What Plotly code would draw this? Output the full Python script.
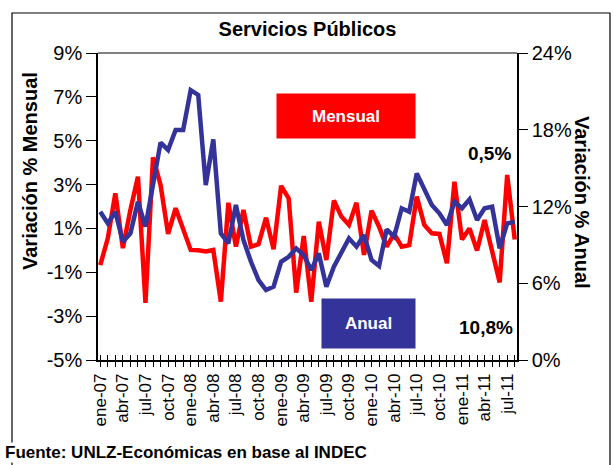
""" Servicios Publicos: variacion mensual y anual """
import plotly.graph_objects as go

meses = ['ene', 'feb', 'mar', 'abr', 'may', 'jun',
         'jul', 'ago', 'sep', 'oct', 'nov', 'dic']
periodos = [m + '-' + y for y in ['07', '08', '09', '10', '11'] for m in meses][:56]

mensual = [-0.67, 0.55, 2.6, 0.1, 1.84, 3.36, -2.4, 4.24, 2.98, 0.75, 1.92, 0.96,
           0.02, 0.0, -0.05, 0.02, -2.34, 2.17, 0.17, 1.84, 0.17, 0.28, 1.49, 0.05,
           2.94, 2.37, -1.93, 0.65, -2.34, 1.31, -0.44, 2.27, 1.54, 1.16, 2.17, -0.21,
           1.81, 1.08, 0.17, 0.75, 0.17, 0.24, 2.45, 1.16, 0.78, 0.75, -0.59, 3.13,
           0.5, 1.0, -0.01, 1.38, 0.02, -1.46, 3.44, 0.5]

anual = [11.59, 10.68, 11.59, 9.25, 9.9, 12.37, 10.42, 13.68, 16.99, 16.42, 17.98, 17.98,
         21.1, 20.72, 13.68, 17.25, 9.9, 9.12, 12.12, 9.38, 7.68, 6.25, 5.47, 5.73,
         7.68, 8.07, 8.73, 8.2, 7.03, 8.34, 5.73, 7.29, 8.46, 9.51, 8.86, 9.77,
         7.82, 7.35, 10.21, 9.64, 11.86, 11.59, 14.59, 13.29, 12.12, 11.47, 10.55, 12.37,
         11.86, 12.56, 10.94, 11.86, 11.98, 8.73, 10.68, 10.81]

ticks_mensual = [-5, -3, -1, 1, 3, 5, 7, 9]
ticks_anual = [0, 6, 12, 18, 24]

idx = list(range(len(periodos)))
tick_idx = idx[::3]
tick_txt = periodos[::3]

FONT = 'Liberation Sans, Arial, sans-serif'
ROJO = '#FF0000'
AZUL = '#333399'


def px_x(px):
    """ pixel column -> paper x """
    return (px - 98) / 419


def px_y(px):
    """ pixel row -> paper y """
    return (360 - px) / 307


fig = go.Figure()
fig.add_trace(go.Scatter(x=idx, y=mensual, mode='lines', name='Mensual',
                         line=dict(color=ROJO, width=4.5)))
fig.add_trace(go.Scatter(x=idx, y=anual, mode='lines', name='Anual', yaxis='y2',
                         line=dict(color=AZUL, width=4.5)))
# dummy trace so the inside-tick overlay axis is drawn
fig.add_trace(go.Scatter(x=[None], y=[None], xaxis='x2', showlegend=False,
                         hoverinfo='skip'))

xr = [-0.3, 55.3]
fig.update_layout(
    width=613, height=465,
    margin=dict(l=98, r=96, t=53, b=105, autoexpand=False),
    paper_bgcolor='white', plot_bgcolor='white',
    showlegend=False,
    font=dict(family=FONT, color='black'),
    title=dict(text='<b>Servicios Públicos</b>', x=0.5, xref='paper',
               y=1 - 29 / 465, yanchor='middle',
               font=dict(size=20, family=FONT, color='black')),
    xaxis=dict(range=xr, tickmode='array', tickvals=tick_idx, ticktext=tick_txt,
               tickangle=-90, tickfont=dict(size=17), showgrid=False, zeroline=False,
               automargin=False,
               showline=True, linecolor='black', linewidth=1.5,
               ticks='outside', ticklen=5, tickcolor='black',
               minor=dict(dtick=1, tick0=0, ticks='outside', ticklen=5,
                          tickcolor='black')),
    xaxis2=dict(range=xr, overlaying='x', anchor='y', side='bottom',
                showticklabels=False, showgrid=False, zeroline=False,
                automargin=False,
                tickmode='linear', tick0=0, dtick=1, ticks='inside', ticklen=5,
                tickcolor='black'),
    yaxis=dict(range=[-5, 9], tickmode='array', tickvals=ticks_mensual,
               ticktext=[f'{v}%' for v in ticks_mensual],
               tickfont=dict(size=20), showgrid=False, zeroline=False,
               automargin=False,
               showline=True, linecolor='black', linewidth=1.5,
               ticks='outside', ticklen=10, tickcolor='black'),
    yaxis2=dict(range=[0, 24], tickmode='array', tickvals=ticks_anual,
                ticktext=[f'{v}%' for v in ticks_anual],
                overlaying='y', side='right', anchor='x',
                tickfont=dict(size=20), showgrid=False, zeroline=False,
                automargin=False,
                showline=True, linecolor='black', linewidth=1.5,
                ticks='outside', ticklen=9, tickcolor='black'),
)

# outer frame and grey top border
fig.add_shape(type='rect', xref='paper', yref='paper',
              x0=px_x(12), x1=px_x(610), y0=px_y(470), y1=px_y(13),
              line=dict(color='black', width=1.2), layer='below')
fig.add_shape(type='line', xref='paper', yref='paper', x0=0, x1=1, y0=1, y1=1,
              line=dict(color='#808080', width=2))

notes = [
    # text, x, y, extra
    ('<b>Variación % Mensual</b>', 30, 171, dict(textangle=-90, font=dict(size=20))),
    ('<b>Variación % Anual</b>', 582, 202, dict(textangle=90, font=dict(size=20))),
    ('<b>Mensual</b>', 346, 116, dict(bgcolor=ROJO, width=138, height=44, borderpad=0,
                                      font=dict(size=17, color='white'))),
    ('<b>Anual</b>', 368.5, 323.5, dict(bgcolor=AZUL, width=93, height=49, borderpad=0,
                                        font=dict(size=17, color='white'))),
    ('<b>0,5%</b>', 489.5, 153, dict(font=dict(size=19))),
    ('<b>10,8%</b>', 485.5, 327, dict(font=dict(size=19))),
]
for text, x, y, extra in notes:
    fig.add_annotation(text=text, xref='paper', yref='paper', x=px_x(x), y=px_y(y),
                       xanchor='center', yanchor='middle', showarrow=False, **extra)

# source
fig.add_annotation(text='<b>Fuente: UNLZ-Económicas en base al INDEC</b>',
                   xref='paper', yref='paper', x=px_x(4), xanchor='left',
                   y=px_y(452), yanchor='middle', showarrow=False, bgcolor='white',
                   borderpad=0, font=dict(size=17))

fig.write_html("out.html",
               config={'displayModeBar': False},
               post_script="document.body.style.margin='0';"
                           "document.body.style.overflow='hidden';")
